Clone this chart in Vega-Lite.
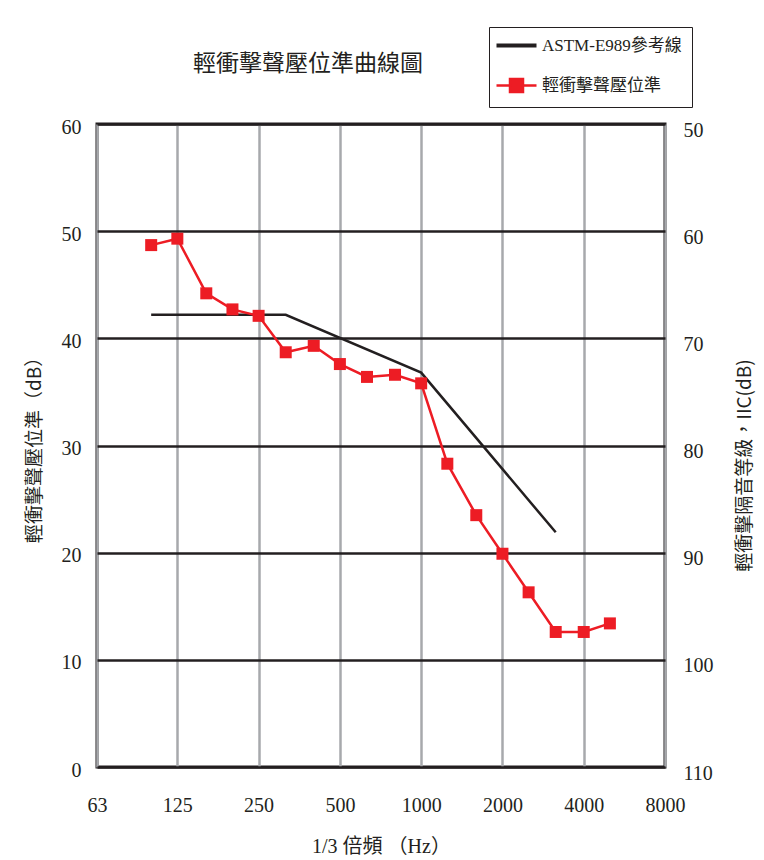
{
  "$schema": "https://vega.github.io/schema/vega-lite/v6.json",
  "width": 568,
  "height": 643,
  "autosize": {"type": "none"},
  "padding": {"left": 97, "top": 124, "right": 99, "bottom": 93},
  "background": "white",
  "title": {
    "text": "輕衝擊聲壓位準曲線圖",
    "anchor": "middle",
    "dx": -73,
    "offset": -49,
    "font": "Noto Sans CJK TC",
    "fontSize": 23,
    "fontWeight": "normal",
    "color": "#231f20"
  },
  "config": {
    "view": {"stroke": "#231f20", "strokeWidth": 3},
    "axis": {"labelColor": "#231f20", "titleColor": "#231f20"}
  },
  "data": {
    "values": [
      {"series": "ASTM-E989參考線", "freq": 100, "db": 42.2},
      {"series": "ASTM-E989參考線", "freq": 315, "db": 42.2},
      {"series": "ASTM-E989參考線", "freq": 1000, "db": 36.8},
      {"series": "ASTM-E989參考線", "freq": 3150, "db": 21.9},
      {"series": "輕衝擊聲壓位準", "freq": 100, "db": 48.7},
      {"series": "輕衝擊聲壓位準", "freq": 125, "db": 49.3},
      {"series": "輕衝擊聲壓位準", "freq": 160, "db": 44.2},
      {"series": "輕衝擊聲壓位準", "freq": 200, "db": 42.7},
      {"series": "輕衝擊聲壓位準", "freq": 250, "db": 42.1},
      {"series": "輕衝擊聲壓位準", "freq": 315, "db": 38.7},
      {"series": "輕衝擊聲壓位準", "freq": 400, "db": 39.3},
      {"series": "輕衝擊聲壓位準", "freq": 500, "db": 37.6},
      {"series": "輕衝擊聲壓位準", "freq": 630, "db": 36.4},
      {"series": "輕衝擊聲壓位準", "freq": 800, "db": 36.6},
      {"series": "輕衝擊聲壓位準", "freq": 1000, "db": 35.8},
      {"series": "輕衝擊聲壓位準", "freq": 1250, "db": 28.3},
      {"series": "輕衝擊聲壓位準", "freq": 1600, "db": 23.5},
      {"series": "輕衝擊聲壓位準", "freq": 2000, "db": 19.9},
      {"series": "輕衝擊聲壓位準", "freq": 2500, "db": 16.3},
      {"series": "輕衝擊聲壓位準", "freq": 3150, "db": 12.6},
      {"series": "輕衝擊聲壓位準", "freq": 4000, "db": 12.6},
      {"series": "輕衝擊聲壓位準", "freq": 5000, "db": 13.4}
    ]
  },
  "encoding": {
    "x": {
      "field": "freq",
      "type": "quantitative",
      "scale": {"type": "log", "domain": [63, 8000], "nice": false},
      "axis": {
        "values": [63, 125, 250, 500, 1000, 2000, 4000, 8000],
        "format": "d",
        "grid": true,
        "gridColor": "#a7a9ac",
        "gridWidth": 2.5,
        "domain": false,
        "ticks": false,
        "labelFont": "Liberation Serif",
        "labelFontSize": 20,
        "labelPadding": 28,
        "labelFlush": false,
        "title": "1/3 倍頻 （Hz）",
        "titleFont": "Liberation Serif, Noto Sans CJK TC",
        "titleFontSize": 20,
        "titleFontWeight": "normal",
        "titlePadding": 21
      }
    },
    "color": {
      "field": "series",
      "type": "nominal",
      "scale": {
        "domain": ["ASTM-E989參考線", "輕衝擊聲壓位準"],
        "range": ["#231f20", "#ed1c24"]
      },
      "legend": {
        "orient": "none",
        "legendX": 392,
        "legendY": -97,
        "title": null,
        "strokeColor": "#231f20",
        "fillColor": "white",
        "padding": 10,
        "symbolSize": 400,
        "symbolOffset": 9,
        "labelOffset": 17,
        "rowPadding": 20,
        "labelFont": "Liberation Serif, Noto Sans CJK TC",
        "labelFontSize": 17,
        "labelColor": "#231f20",
        "labelLimit": 300,
        "encode": {
          "symbols": {
            "update": {
              "shape": {"signal": "datum.value === 'ASTM-E989參考線' ? 'M-2,0H2' : 'M-2,0H2M-0.65,-0.65H0.65V0.65H-0.65Z'"},
              "strokeWidth": {"signal": "datum.value === 'ASTM-E989參考線' ? 4 : 2.5"},
              "fill": {"signal": "datum.value === 'ASTM-E989參考線' ? '#231f20' : '#ed1c24'"},
              "stroke": {"signal": "datum.value === 'ASTM-E989參考線' ? '#231f20' : '#ed1c24'"},
              "fillOpacity": {"value": 1},
              "strokeOpacity": {"value": 1},
              "opacity": {"value": 1}
            }
          }
        }
      }
    }
  },
  "layer": [
    {
      "mark": {"type": "line", "strokeWidth": 2.5},
      "encoding": {
        "y": {
          "field": "db",
          "type": "quantitative",
          "scale": {"domain": [0, 60], "nice": false, "zero": false},
          "axis": {
            "orient": "left",
            "values": [0, 10, 20, 30, 40, 50, 60],
            "grid": true,
            "gridColor": "#231f20",
            "gridWidth": 2.5,
            "domain": false,
            "ticks": false,
            "labelFont": "Liberation Serif",
            "labelFontSize": 20,
            "labelPadding": 16,
            "labelOffset": 3,
            "labelFlush": false,
            "title": "輕衝擊聲壓位準（dB）",
            "titleFont": "Noto Sans CJK TC",
            "titleFontSize": 19,
            "titleFontWeight": "normal",
            "titleAngle": 270,
            "titleX": -63,
            "titleY": 321,
            "titleAlign": "center",
            "titleBaseline": "middle"
          }
        }
      }
    },
    {
      "transform": [{"filter": "datum.series === '輕衝擊聲壓位準'"}],
      "mark": {"type": "point", "shape": "square", "filled": true, "size": 144, "opacity": 1},
      "encoding": {
        "y": {
          "field": "db",
          "type": "quantitative",
          "scale": {"domain": [0, 60], "nice": false, "zero": false},
          "axis": {
            "orient": "right",
            "values": [0, 10, 20, 30, 40, 50, 60],
            "labelExpr": "'' + (110 - datum.value)",
            "grid": false,
            "domain": false,
            "ticks": false,
            "labelFont": "Liberation Serif",
            "labelFontSize": 20,
            "labelPadding": 18,
            "labelOffset": 6,
            "labelFlush": false,
            "title": "輕衝擊隔音等級，IIC(dB)",
            "titleFont": "Noto Sans CJK TC",
            "titleFontSize": 19,
            "titleFontWeight": "normal",
            "titleAngle": 270,
            "titleX": 79,
            "titleY": 341,
            "titleAlign": "center",
            "titleBaseline": "middle"
          }
        }
      }
    }
  ],
  "resolve": {"scale": {"y": "independent"}}
}
